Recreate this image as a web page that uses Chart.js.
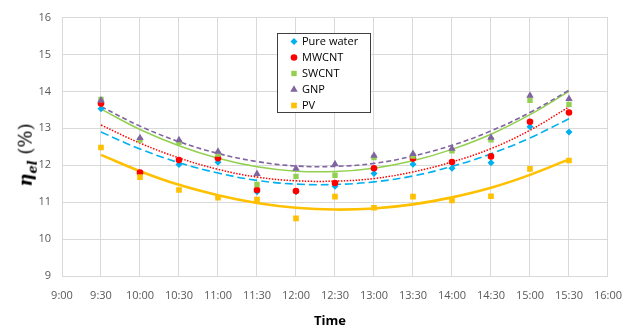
<!DOCTYPE html>
<html>
<head>
<meta charset="utf-8">
<script src="https://cdn.jsdelivr.net/npm/chart.js@4.4.1/dist/chart.umd.min.js"></script>
<style>
  html, body { margin: 0; padding: 0; background: #fff; }
  #wrap { position: relative; width: 635px; height: 329px; }
  #ytitle {
    position: absolute; left: 27px; top: 155px;
    transform: translate(-50%, -50%) rotate(-90deg);
    font-family: "DejaVu Serif", serif; font-size: 18px; white-space: nowrap; color: #000;
  }
  #ytitle sub { font-size: 13px; }
  #xtitle {
    position: absolute; left: 330px; top: 320px;
    transform: translate(-50%, -50%);
    font-family: "Open Sans", sans-serif; font-weight: bold; font-size: 13px; color: #000;
  }
</style>
</head>
<body>
<div id="wrap">
  <canvas id="chart" width="635" height="329"></canvas>
  <div id="ytitle"><b><i>η</i><sub><i>el</i></sub></b> (%)</div>
  <div id="xtitle">Time</div>
</div>
<script>
// axis ticks
const tickLabels = ["9:00", "9:30", "10:00", "10:30", "11:00", "11:30", "12:00", "12:30",
                    "13:00", "13:30", "14:00", "14:30", "15:00", "15:30", "16:00"];
// measurement times
const times = ["9:30", "10:00", "10:30", "11:00", "11:30", "12:00", "12:30",
               "13:00", "13:30", "14:00", "14:30", "15:00", "15:30"];

const seriesNames = ["Pure water", "MWCNT", "SWCNT", "GNP", "PV"];

// measured efficiency (%)
const pureWater = [13.53, 11.76, 12.02, 12.08, 11.28, 11.28, 11.43, 11.78, 12.03, 11.92, 12.07, 13.04, 12.90];
const mwcnt     = [13.67, 11.80, 12.14, 12.19, 11.33, 11.30, 11.52, 11.92, 12.18, 12.09, 12.24, 13.18, 13.43];
const swcnt     = [13.78, 12.68, 12.62, 12.30, 11.48, 11.70, 11.73, 12.21, 12.25, 12.39, 12.69, 13.76, 13.65];
const gnp       = [13.76, 12.74, 12.68, 12.37, 11.77, 11.91, 12.03, 12.26, 12.31, 12.45, 12.75, 13.89, 13.80];
const pv        = [12.48, 11.68, 11.33, 11.12, 11.07, 10.56, 11.15, 10.85, 11.15, 11.05, 11.16, 11.90, 12.13];

// trend lines
const pureWaterFit = [12.90, 12.44, 12.07, 11.79, 11.59, 11.49, 11.48, 11.55, 11.71, 11.97, 12.31, 12.74, 13.26];
const mwcntFit     = [13.09, 12.60, 12.20, 11.89, 11.68, 11.58, 11.57, 11.64, 11.82, 12.09, 12.45, 12.95, 13.58];
const swcntFit     = [13.52, 12.97, 12.53, 12.19, 11.96, 11.84, 11.83, 11.92, 12.12, 12.43, 12.84, 13.37, 14.00];
const gnpFit       = [13.59, 13.06, 12.64, 12.32, 12.10, 11.98, 11.97, 12.05, 12.25, 12.54, 12.93, 13.43, 14.03];
const pvFit        = [12.28, 11.84, 11.47, 11.19, 10.98, 10.85, 10.80, 10.83, 10.94, 11.13, 11.39, 11.74, 12.16];

const colors = ["#00b0f0", "#ff0000", "#92d050", "#8064a2", "#ffc000"];
const styles = ["rectRot", "circle", "rect", "triangle", "rect"];
const radii  = [3.5, 3.3, 3.8, 4.3, 4.0];

function pts(vals) {
  return vals.map((v, i) => ({ x: times[i], y: v }));
}

function markers(i, vals) {
  return {
    label: seriesNames[i],
    data: pts(vals),
    showLine: false,
    pointStyle: styles[i],
    pointRadius: radii[i],
    pointBackgroundColor: colors[i],
    pointBorderWidth: 0,
    borderColor: colors[i],
    order: 5 - i
  };
}

function trend(i, vals, width, dash) {
  return {
    label: seriesNames[i] + " trend",
    data: pts(vals),
    borderColor: colors[i],
    borderWidth: width,
    borderDash: dash,
    pointRadius: 0,
    tension: 0.4,
    fill: false,
    order: 10 - i
  };
}

// legend box inside the plot
const boxLegend = {
  id: "boxLegend",
  afterDraw(chart) {
    const ctx = chart.ctx;
    ctx.save();
    ctx.fillStyle = "#fff";
    ctx.fillRect(277.5, 33.5, 93, 79);
    ctx.strokeStyle = "#404040";
    ctx.lineWidth = 1;
    ctx.strokeRect(277.5, 33.5, 93, 79);
    ctx.font = "11px 'Open Sans', sans-serif";
    ctx.textBaseline = "middle";
    seriesNames.forEach((name, i) => {
      const y = 41.5 + i * 16;
      ctx.fillStyle = colors[i];
      Chart.helpers.drawPoint(ctx, { pointStyle: styles[i], radius: radii[i], borderWidth: 0, rotation: 0 }, 294, y);
      ctx.fillStyle = "#000";
      ctx.fillText(name, 302, y);
    });
    ctx.restore();
  }
};

new Chart(document.getElementById("chart"), {
  type: "line",
  data: {
    labels: tickLabels,
    datasets: [
      markers(0, pureWater),
      markers(1, mwcnt),
      markers(2, swcnt),
      markers(3, gnp),
      markers(4, pv),
      trend(0, pureWaterFit, 1.6, [8, 4]),
      trend(1, mwcntFit, 1.5, [1.5, 1.5]),
      trend(2, swcntFit, 1.5, []),
      trend(3, gnpFit, 1.6, [5, 3]),
      trend(4, pvFit, 2.6, [])
    ]
  },
  options: {
    responsive: false,
    animation: false,
    devicePixelRatio: 1,
    layout: { padding: { top: 13, right: 23, left: 0, bottom: 0 } },
    plugins: { legend: { display: false }, tooltip: { enabled: false } },
    scales: {
      x: {
        type: "category",
        offset: false,
        grid: { color: "#d9d9d9", drawTicks: false },
        border: { color: "#d9d9d9" },
        ticks: {
          color: "#595959", padding: 13, maxRotation: 0, autoSkip: false,
          font: { family: "'Open Sans', sans-serif", size: 11 }
        },
        afterFit(s) { s.height = 53; }
      },
      y: {
        min: 9, max: 16,
        grid: { color: "#d9d9d9", drawTicks: false },
        border: { color: "#d9d9d9" },
        ticks: {
          stepSize: 1, color: "#595959", padding: 11,
          font: { family: "'Open Sans', sans-serif", size: 11 }
        },
        afterFit(s) { s.width = 62; }
      }
    }
  },
  plugins: [boxLegend]
});
</script>
</body>
</html>
